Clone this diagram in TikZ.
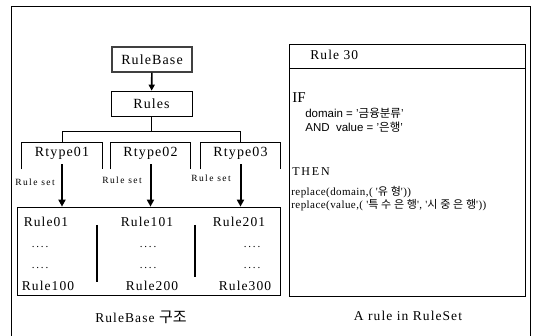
\documentclass[tikz,border=0pt]{standalone}
\usepackage{fontspec}
\setmainfont{Liberation Serif}
\setsansfont{Liberation Sans}
\newfontfamily\spaced[LetterSpace=8]{Liberation Serif}
\newfontfamily\wide[LetterSpace=15]{Liberation Serif}
\newfontfamily\codefont[LetterSpace=4]{Liberation Serif}
\newfontfamily\kr{Noto Sans CJK KR}
\newfontfamily\krwide[LetterSpace=25]{Noto Sans CJK KR}
\usetikzlibrary{arrows.meta}
\begin{document}
\begin{tikzpicture}[x=1pt, y=-1pt, line width=0.7pt,
  tbox/.style={draw, minimum width=80pt, minimum height=25pt, inner sep=0pt, font=\fontsize{14}{16}\spaced},
  rtype/.style={minimum width=80pt, minimum height=21pt, inner sep=0pt, font=\fontsize{14}{16}\spaced},
  rlabel/.style={inner sep=0pt, font=\fontsize{13.5}{16}\spaced},
  setlabel/.style={inner sep=0pt, font=\fontsize{9.5}{10}\wide},
  dots/.style={inner sep=0pt, font=\fontsize{11}{12}\selectfont},
  code/.style={anchor=west, inner sep=0pt, font=\fontsize{11}{12}\codefont},
  bigarrow/.style={line width=2pt, -{Triangle[length=7pt, width=7pt]}}]
\useasboundingbox (0,0) rectangle (533,336);
\draw[] (11,336) -- (11,6) -- (530,6) -- (530,336);
% left part
\node[tbox, draw=black!75, line width=1.3pt] (rulebase) at (152,59.5){RuleBase};
\node[tbox, minimum width=81pt] (rules) at (151.5,103.5){Rules};
\draw[line width=1.6pt, -{Triangle[length=6pt, width=6pt]}] (rulebase) -- (rules);
\node[rtype] (rt1) at (62,153.5){Rtype01};
\node[rtype, minimum width=79pt] (rt2) at (150.5,153.5){Rtype02};
\node[rtype, minimum width=79pt] (rt3) at (240.5,153.5){Rtype03};
\foreach \r in {rt1,rt2,rt3}
  \draw[] ([yshift=-5pt]\r.south west) -- (\r.north west) -- (\r.north east) -- ([yshift=-5pt]\r.south east);
\coordinate (fork) at (151.5,131);
\draw[] (rules) -- (fork);
\draw[] (rt1.north) -- (rt1.north |- fork) -- (rt3.north |- fork) -- (rt3.north);
\node[draw, minimum width=263pt, minimum height=88pt, inner sep=0pt] (ruleset) at (148.5,251){};
\draw[bigarrow] (rt1.south) -- (rt1.south |- ruleset.north);
\draw[bigarrow] (rt2.south) -- (rt2.south |- ruleset.north);
\draw[bigarrow] (rt3.south) -- (rt3.south |- ruleset.north);
\node[setlabel] (set1) at (35,182){Rule set};
\node[setlabel] (set2) at (122,180){Rule set};
\node[setlabel] (set3) at (211,178){Rule set};
\node[rlabel] (r01) at (46,222){Rule01};
\node[rlabel] (r101) at (147,222){Rule101};
\node[rlabel] (r201) at (239,222){Rule201};
\node[dots] (d1) at (40,247){.\,.\,.\,.};
\node[dots] (d2) at (148,247){.\,.\,.\,.};
\node[dots] (d3) at (252,247){.\,.\,.\,.};
\node[dots] (d4) at (40,268){.\,.\,.\,.};
\node[dots] (d5) at (148,268){.\,.\,.\,.};
\node[dots] (d6) at (252,268){.\,.\,.\,.};
\node[rlabel] (r100) at (48,286){Rule100};
\node[rlabel] (r200) at (152,286){Rule200};
\node[rlabel] (r300) at (245,286){Rule300};
\draw[line width=2.2pt] (97,225) -- (97,282);
\draw[line width=2.2pt] (195,225) -- (195,277);
\node[rlabel] (cap1) at (141,317){RuleBase {\fontsize{15}{16}\kr 구조}};
% right part
\node[draw, minimum width=236pt, minimum height=24pt, inner sep=0pt] (head) at (407,56){};
\node[anchor=west, rlabel] (title) at (310,55){Rule 30};
\node[draw, minimum width=236pt, minimum height=228pt, inner sep=0pt] (body) at (407,182){};
\node[code, font=\fontsize{15}{16}\selectfont] (if) at (292,98){IF};
\node[code, font=\sffamily\fontsize{11.5}{13}\selectfont] (cond1) at (305,113){domain = '{\kr 금융분류}'};
\node[code, font=\sffamily\fontsize{11.5}{13}\selectfont] (cond2) at (305,127){AND\ \ value = '{\kr 은행}'};
\node[code, font=\fontsize{12}{14}\wide] (then) at (292,172){THEN};
\node[code] (act1) at (291,192){replace(domain,( '{\krwide 유형}'))};
\node[code] (act2) at (291,205){replace(value,( '{\krwide 특수은행}', '{\krwide 시중은행}'))};
\node[rlabel] (cap2) at (408,316){A rule in RuleSet};
\end{tikzpicture}
\end{document}
